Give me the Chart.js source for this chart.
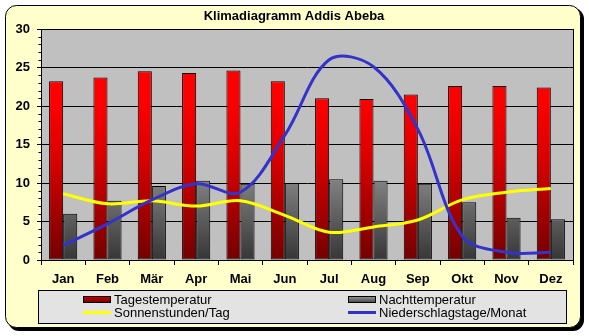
<!DOCTYPE html>
<html lang="de">
<head>
<meta charset="utf-8">
<title>Klimadiagramm Addis Abeba</title>
<script src="https://cdn.jsdelivr.net/npm/chart.js@4.4.1/dist/chart.umd.min.js"></script>
<style>
  html, body { margin: 0; padding: 0; background: #fff; }
  canvas { display: block; }
</style>
</head>
<body>
<canvas id="klima" width="589" height="336"></canvas>
<script>
// Daten
const monate      = ["Jan", "Feb", "Mär", "Apr", "Mai", "Jun", "Jul", "Aug", "Sep", "Okt", "Nov", "Dez"];
const tagesTemp   = [23.2, 23.7, 24.5, 24.3, 24.6, 23.2, 21.0, 20.9, 21.5, 22.6, 22.6, 22.4];
const nachtTemp   = [6.0, 7.7, 9.6, 10.3, 9.9, 10.0, 10.5, 10.3, 9.9, 7.5, 5.5, 5.3];
const sonne       = [8.6, 7.3, 7.7, 7.0, 7.7, 5.8, 3.6, 4.3, 5.2, 7.8, 8.8, 9.3];
const regentage   = [1.9, 4.7, 7.8, 9.9, 8.8, 16.2, 26.0, 25.1, 17.0, 3.1, 1.0, 1.0];
const yMax = 30, yStep = 5;
const titel = "Klimadiagramm Addis Abeba";

const FONT = "'Liberation Sans', Arial, sans-serif";

// Verläufe über die Höhe der Zeichenfläche
function verlauf(chart, stops) {
  const a = chart.chartArea;
  if (!a) return stops[0][1];
  const g = chart.ctx.createLinearGradient(0, a.bottom, 0, a.top);
  stops.forEach(([p, c]) => g.addColorStop(p, c));
  return g;
}
const rotStops  = [[0, "#740000"], [0.45, "#dc0000"], [0.7, "#ff0000"], [1, "#ff0000"]];
const grauStops = [[0, "#363636"], [0.35, "#828282"], [1, "#c0c0c0"]];

function rundRect(ctx, x, y, w, h, r) {
  ctx.beginPath();
  ctx.moveTo(x + r, y);
  ctx.arcTo(x + w, y, x + w, y + h, r);
  ctx.arcTo(x + w, y + h, x, y + h, r);
  ctx.arcTo(x, y + h, x, y, r);
  ctx.arcTo(x, y, x + w, y, r);
  ctx.closePath();
}

// Rahmen, Hintergrund, Titel
const rahmen = {
  id: "rahmen",
  beforeDraw(chart) {
    const { ctx, chartArea: a } = chart;
    ctx.save();
    ctx.fillStyle = "#000";
    rundRect(ctx, 8, 8, 576, 323, 11);
    ctx.fill();
    ctx.fillStyle = "#ffffcc";
    rundRect(ctx, 5.5, 5.5, 575, 322, 11);
    ctx.fill();
    ctx.strokeStyle = "#000";
    ctx.lineWidth = 1;
    ctx.stroke();

    ctx.fillStyle = "#c0c0c0";
    ctx.fillRect(a.left, a.top, a.right - a.left, a.bottom - a.top);

    ctx.fillStyle = "#000";
    ctx.font = "bold 13px " + FONT;
    ctx.textAlign = "center";
    ctx.textBaseline = "alphabetic";
    ctx.fillText(titel, 294, 20);
    ctx.restore();
  },
  afterDraw(chart) {
    const { ctx, chartArea: a } = chart;
    const y = chart.scales.y;
    ctx.save();
    // Rand der Zeichenfläche
    ctx.strokeStyle = "#000";
    ctx.lineWidth = 1;
    ctx.strokeRect(Math.round(a.left) + 0.5, Math.round(a.top) + 0.5,
                   Math.round(a.right - a.left), Math.round(a.bottom - a.top));
    // Hilfsstriche an der y-Achse
    ctx.beginPath();
    for (let v = 0; v <= yMax; v++) {
      if (v % yStep === 0) continue;
      const py = Math.round(y.getPixelForValue(v)) + 0.5;
      ctx.moveTo(a.left - 2.5, py);
      ctx.lineTo(a.left, py);
    }
    ctx.stroke();

    // Legende
    const lx = 38.5, ly = 290.5;
    ctx.fillStyle = "#e3e3e3";
    ctx.fillRect(lx, ly, 528, 33);
    ctx.strokeRect(lx, ly, 528, 33);
    ctx.font = "13px " + FONT;
    ctx.textAlign = "left";
    ctx.textBaseline = "alphabetic";
    chart.data.datasets.forEach((ds, i) => {
      const x0 = i % 2 === 0 ? 83 : 348;
      const row = Math.floor(i / 2);
      const my = row === 0 ? 300 : 312.5;
      if (ds.type === "bar") {
        const g = ctx.createLinearGradient(0, my - 3, 0, my + 3);
        const st = ds.label === "Tagestemperatur"
          ? [[0, "#c00000"], [1, "#700000"]]
          : [[0, "#909090"], [1, "#404040"]];
        st.forEach(([p, c]) => g.addColorStop(p, c));
        ctx.fillStyle = g;
        ctx.fillRect(x0 + 0.5, my - 3.5, 27, 6);
        ctx.strokeRect(x0 + 0.5, my - 3.5, 27, 6);
      } else {
        ctx.strokeStyle = ds.borderColor;
        ctx.lineWidth = 3;
        ctx.beginPath();
        ctx.moveTo(x0, my);
        ctx.lineTo(x0 + 28, my);
        ctx.stroke();
        ctx.strokeStyle = "#000";
        ctx.lineWidth = 1;
      }
      ctx.fillStyle = "#000";
      ctx.fillText(ds.label, x0 + 31, row === 0 ? 304 : 316.5);
    });
    ctx.restore();
  }
};

new Chart(document.getElementById("klima"), {
  data: {
    labels: monate,
    datasets: [
      {
        type: "bar", label: "Tagestemperatur", data: tagesTemp, order: 2,
        backgroundColor: c => verlauf(c.chart, rotStops),
        borderColor: "#000", borderWidth: 1, borderSkipped: false,
        categoryPercentage: 0.635, barPercentage: 1
      },
      {
        type: "bar", label: "Nachttemperatur", data: nachtTemp, order: 2,
        backgroundColor: c => verlauf(c.chart, grauStops),
        borderColor: "#000", borderWidth: 1, borderSkipped: false,
        categoryPercentage: 0.635, barPercentage: 1
      },
      {
        type: "line", label: "Sonnenstunden/Tag", data: sonne, order: 1,
        borderColor: "#ffff00", borderWidth: 3, pointRadius: 0, tension: 0.35
      },
      {
        type: "line", label: "Niederschlagstage/Monat", data: regentage, order: 0,
        borderColor: "#3333cc", borderWidth: 3, pointRadius: 0, tension: 0.35
      }
    ]
  },
  options: {
    responsive: false,
    animation: false,
    events: [],
    layout: { autoPadding: false, padding: { top: 29, left: 5, right: 16, bottom: 46 } },
    plugins: { legend: { display: false }, title: { display: false }, tooltip: { enabled: false } },
    scales: {
      x: {
        offset: true,
        afterFit: s => { s.height = 30; },
        grid: { offset: true, drawOnChartArea: false, tickLength: 5, color: "#000" },
        border: { display: true, color: "#000" },
        ticks: { color: "#000", font: { family: FONT, size: 13, weight: "bold" }, padding: 7, maxRotation: 0 }
      },
      y: {
        min: 0, max: yMax,
        afterFit: s => { s.width = 36; },
        grid: { color: "#000", lineWidth: 1, tickLength: 4 },
        border: { display: true, color: "#000" },
        ticks: { stepSize: yStep, color: "#000", font: { family: FONT, size: 13, weight: "bold" }, padding: 7 }
      }
    }
  },
  plugins: [rahmen]
});
</script>
</body>
</html>
